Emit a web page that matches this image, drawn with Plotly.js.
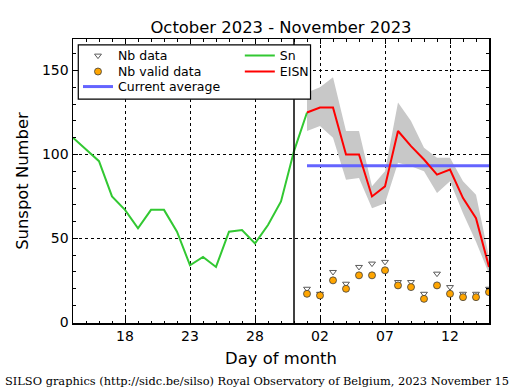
<!DOCTYPE html>
<html>
<head>
<meta charset="utf-8">
<script src="https://cdn.plot.ly/plotly-3.0.1.min.js"></script>
<style>html,body{margin:0;padding:0;background:#fff;}#chart{width:515px;height:390px;}</style>
</head>
<body>
<div id="chart"></div>
<script>
// ---- data ----
const snDates = ['2023-10-14','2023-10-15','2023-10-16','2023-10-17','2023-10-18','2023-10-19','2023-10-20',
  '2023-10-21','2023-10-22','2023-10-23','2023-10-24','2023-10-25','2023-10-26','2023-10-27','2023-10-28',
  '2023-10-29','2023-10-30','2023-10-31','2023-11-01'];
const snValues = [110, 103, 96, 75, 67, 56, 67, 67, 54, 34, 39, 33, 54, 55, 47, 58, 72, 102, 125];

const eisnDates = ['2023-11-01','2023-11-02','2023-11-03','2023-11-04','2023-11-05','2023-11-06','2023-11-07',
  '2023-11-08','2023-11-09','2023-11-10','2023-11-11','2023-11-12','2023-11-13','2023-11-14','2023-11-15'];
const eisnValues  = [125, 128, 128, 100, 100, 75, 81, 114, 105, 97, 88, 91, 74, 62, 33];
const eisnUpper   = [137, 140, 146, 114, 114, 81, 90, 131, 120, 104, 98, 98, 84, 76, 39];
const eisnLower   = [114, 117, 110, 85, 86, 68, 71, 95, 93, 90, 77, 84, 65, 48, 29];
const nbData      = [20, 17, 30, 23, 33, 35, 36, 24, 24, 17, 29, 21, 17, 17, 20];
const nbValidData = [17, 16, 25, 20, 28, 28, 31, 22, 21, 14, 22, 17, 15, 15, 18];
const currentAverage = 93.3;
const monthStart = '2023-10-31';

const tickVals   = ['2023-10-18','2023-10-23','2023-10-28','2023-11-02','2023-11-07','2023-11-12'];
const tickLabels = ['18','23','28','02','07','12'];
const yTickVals  = [0, 50, 100, 150];
const xRange = ['2023-10-14', '2023-11-15'];

const FONT = 'DejaVu Sans, sans-serif';

const traces = [
  { x: eisnDates, y: eisnLower, mode: 'lines', line: {width: 0, color: 'rgba(0,0,0,0)'},
    showlegend: false, hoverinfo: 'skip' },
  { x: eisnDates, y: eisnUpper, mode: 'lines', line: {width: 0, color: 'rgba(0,0,0,0)'},
    fill: 'tonexty', fillcolor: 'rgb(200,200,200)', showlegend: false, hoverinfo: 'skip' },
  { x: [eisnDates[0], eisnDates[eisnDates.length-1]], y: [currentAverage, currentAverage],
    mode: 'lines', name: 'Current average', line: {color: 'rgb(100,100,255)', width: 3}, legend: 'legend3' },
  { x: snDates, y: snValues, mode: 'lines', name: 'Sn', line: {color: 'rgb(50,200,50)', width: 2}, legend: 'legend4' },
  { x: eisnDates, y: eisnValues, mode: 'lines', name: 'EISN', line: {color: 'rgb(255,0,0)', width: 2}, legend: 'legend5' },
  { x: eisnDates, y: nbData, mode: 'markers', name: 'Nb data',
    marker: {symbol: 'triangle-down', size: 6, color: 'white', line: {color: 'rgb(90,90,90)', width: 1}}, legend: 'legend' },
  { x: eisnDates, y: nbValidData, mode: 'markers', name: 'Nb valid data',
    marker: {symbol: 'circle', size: 7, color: 'rgb(255,165,0)', line: {color: 'rgb(60,60,60)', width: 0.8}}, legend: 'legend2' }
];

function legendAt(x, y) {
  return { x: x, y: y, xanchor: 'left', yanchor: 'top', xref: 'paper', yref: 'paper',
    bgcolor: 'rgba(0,0,0,0)', borderwidth: 0,
    font: {family: FONT, size: 12.5, color: 'black'} };
}

const col1 = 0.012, col2 = 0.401;
const row1 = 0.993, row2 = 0.937, row3 = 0.884;

const layout = {
  width: 515, height: 390,
  margin: {l: 73, r: 26, t: 39, b: 67},
  paper_bgcolor: 'white', plot_bgcolor: 'white',
  font: {family: FONT, color: 'black'},
  title: {text: 'October 2023 - November 2023', font: {family: FONT, size: 16.4, color: 'black'},
    x: 0.5, xref: 'paper', xanchor: 'center', y: 1 - 27/390, yanchor: 'middle'},
  xaxis: {
    type: 'date', range: xRange,
    tickmode: 'array', tickvals: tickVals, ticktext: tickLabels,
    ticks: 'inside', ticklen: 5, tickwidth: 1, tickcolor: 'black',
    showline: true, linecolor: 'black', linewidth: 1.5, mirror: 'ticks',
    showgrid: true, gridcolor: 'black', griddash: 'dot', gridwidth: 1,
    zeroline: false,
    tickfont: {family: FONT, size: 14, color: 'black'},
    minor: {dtick: 86400000, tick0: '2023-10-14', ticks: 'inside', ticklen: 2.5, tickcolor: 'black', showgrid: false},
    title: {text: 'Day of month', font: {family: FONT, size: 16.4, color: 'black'}, standoff: 9},
    automargin: false
  },
  yaxis: {
    range: [-0.4, 168.8],
    tickmode: 'array', tickvals: yTickVals,
    ticks: 'inside', ticklen: 5, tickwidth: 1, tickcolor: 'black',
    showline: true, linecolor: 'black', linewidth: 1.5, mirror: 'ticks',
    showgrid: true, gridcolor: 'black', griddash: 'dot', gridwidth: 1,
    zeroline: false,
    tickfont: {family: FONT, size: 14, color: 'black'},
    minor: {dtick: 10, tick0: 0, ticks: 'inside', ticklen: 3, tickcolor: 'black', showgrid: false},
    title: {text: 'Sunspot Number', font: {family: FONT, size: 16.4, color: 'black'}, standoff: 9},
    automargin: false
  },
  legend: legendAt(col1, row1),
  legend2: legendAt(col1, row2),
  legend3: legendAt(col1, row3),
  legend4: legendAt(col2, row1),
  legend5: legendAt(col2, row2),
  shapes: [
    { type: 'line', xref: 'x', yref: 'paper', x0: monthStart, x1: monthStart, y0: 0, y1: 1,
      line: {color: 'black', width: 1.5} },
    { type: 'rect', xref: 'paper', yref: 'paper', x0: 0.0127, x1: 0.571, y0: 0.788, y1: 0.979,
      fillcolor: 'white', line: {color: 'black', width: 1.2}, layer: 'above' }
  ],
  annotations: [
    { text: 'SILSO graphics (http://sidc.be/silso) Royal Observatory of Belgium, 2023 November 15',
      xref: 'paper', yref: 'paper', x: 0.4435, y: -0.204, xanchor: 'center', yanchor: 'middle',
      showarrow: false, font: {family: 'DejaVu Serif, serif', size: 11.4, color: 'black'} }
  ],
  showlegend: true
};

Plotly.newPlot('chart', traces, layout, {displayModeBar: false, staticPlot: true});
</script>
</body>
</html>
